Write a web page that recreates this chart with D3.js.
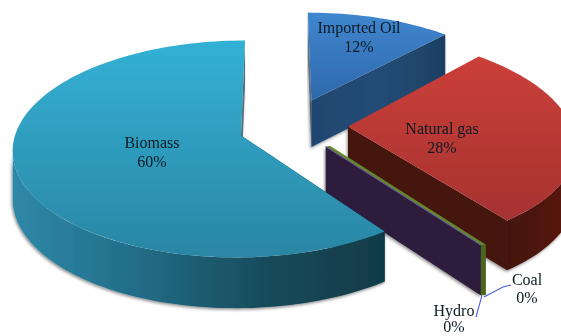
<!DOCTYPE html>
<html>
<head>
<meta charset="utf-8">
<script src="https://cdn.jsdelivr.net/npm/d3@7"></script>
<style>
html,body{margin:0;padding:0;background:#fff;overflow:hidden}
svg{display:block}
text{font-family:"Liberation Serif",serif;font-size:16px;fill:#0b1a22;text-anchor:middle}
</style>
</head>
<body>
<svg id="chart" width="561" height="336"></svg>
<script>
// Energy supply shares, in pie order clockwise from twelve o'clock
const sources = ["Imported Oil", "Natural gas", "Coal", "Hydro", "Biomass"];
const shares = [12, 28, 0, 0, 60];

// Slice separation on the disk plane, in units of the disk radius
const explodeU = [0.318, 0.479, 0.392, 0.372, 0];
const explodeV = [-0.342, -0.085, 0.098, 0.102, 0];
// Horizontal drift of each slice with distance from the viewer
const lean = [-4.5, 1.5, -4.5, -4.5, -4.5];

// Perspective camera for the tilted disk
const originX = 241, originY = 135.5;
const radiusX = 226, radiusY = 106.8, thickness = 47.5;
const perspective = 0.124;

const svg = d3.select("#chart");
const defs = svg.append("defs");
const path = d3.line().x(d => d[0]).y(d => d[1]);

const px = d3.scaleLinear().domain([0, 1]).range([0, radiusX]);
const py = d3.scaleLinear().domain([0, 1]).range([0, radiusY]);
const pz = d3.scaleLinear().domain([0, 1]).range([0, thickness]);

// Project a point of slice i (angle clockwise from top, radial fraction, height 0 top / 1 bottom)
function project(i, angle, r, z) {
  const v = -Math.cos(angle) * r + explodeV[i];
  const u = Math.sin(angle) * r + explodeU[i];
  const s = 1 / (1 - perspective * v);
  return [originX + (px(u) + lean[i] * v) * s, originY + py(v) * s + pz(z) * Math.sqrt(s)];
}

function rim(i, a0, a1, z) {
  const steps = Math.max(2, Math.ceil(Math.abs(a1 - a0) / 0.03));
  return d3.range(steps + 1).map(k => project(i, a0 + (a1 - a0) * k / steps, 1, z));
}

function gradient(id, x1, y1, x2, y2, stops) {
  const g = defs.append("linearGradient").attr("id", id)
    .attr("gradientUnits", "userSpaceOnUse")
    .attr("x1", x1).attr("y1", y1).attr("x2", x2).attr("y2", y2);
  stops.forEach(([o, c]) => g.append("stop").attr("offset", o).attr("stop-color", c));
  return `url(#${id})`;
}

const shadow = defs.append("filter").attr("id", "shade")
  .attr("x", "-10%").attr("y", "-10%").attr("width", "120%").attr("height", "120%");
shadow.append("feDropShadow").attr("dx", -1).attr("dy", 1.5)
  .attr("stdDeviation", 1.6).attr("flood-color", "#000").attr("flood-opacity", 0.45);

const soft = defs.append("filter").attr("id", "soft");
soft.append("feGaussianBlur").attr("stdDeviation", 0.35);

const arcs = d3.pie().value(d => d).sort(null).startAngle(0).endAngle(2 * Math.PI)(shares);
const root = svg.append("g").attr("filter", "url(#soft)");

function face(points, fill, extra) {
  const p = root.append("path").attr("d", path(points) + "Z").attr("fill", fill);
  if (extra) p.attr("filter", extra);
  return p;
}
function wall(i, angle) {
  return [project(i, 0, 0, 0), project(i, angle, 1, 0), project(i, angle, 1, 1), project(i, 0, 0, 1)];
}

// Imported oil
{
  const i = 0, a = arcs[i];
  face(wall(i, a.startAngle), "#5f6f7c", "url(#shade)");
  face(wall(i, a.endAngle), gradient("oilWall", 312, 0, 445, 0,
    [[0, "#1f4670"], [0.5, "#234c76"], [1, "#1e4064"]]), "url(#shade)");
  face([project(i, 0, 0, 0), ...rim(i, a.startAngle, a.endAngle, 0)],
    gradient("oilTop", 0, 14, 0, 100, [[0, "#3f86cf"], [1, "#2f68ab"]]));
}

// Natural gas
{
  const i = 1, a = arcs[i];
  const side = rim(i, a.endAngle, Math.PI / 2, 0).concat(rim(i, Math.PI / 2, a.endAngle, 1));
  face(side, gradient("gasRim", 505, 0, 561, 0, [[0, "#43110d"], [1, "#56190f"]]), "url(#shade)");
  face(wall(i, a.endAngle), "#45130e", "url(#shade)");
  face([project(i, 0, 0, 0), ...rim(i, a.startAngle, a.endAngle, 0)],
    gradient("gasTop", 0, 58, 0, 220, [[0, "#cb3f39"], [1, "#a63230"]]));
}

// Coal and hydro are zero-width slices: a wall, its top edge and its end cap
{
  const coal = 2, hydro = 3;
  const at = arcs[coal].startAngle;
  face(wall(hydro, at), "#2d1e3d", "url(#shade)");
  face([project(hydro, 0, 0, 0), project(hydro, at, 1, 0), project(coal, at, 1, 0), project(coal, 0, 0, 0)], "#64882a");
  face([project(hydro, at, 1, 0), project(coal, at, 1, 0), project(coal, at, 1, 1), project(hydro, at, 1, 1)], "#4a661e");
  root.append("path")
    .attr("d", path([project(hydro, 0, 0, 0), project(hydro, at, 1, 0)]))
    .attr("stroke", "#6a50b4").attr("stroke-width", 1).attr("fill", "none");
}

// Biomass
{
  const i = 4, a = arcs[i];
  const silhouette = 3 * Math.PI / 2 - 0.12;
  const front = rim(i, a.startAngle, silhouette, 0).concat(rim(i, silhouette, a.startAngle, 1));
  face(wall(i, a.endAngle), "#55707c", "url(#shade)");
  face(wall(i, a.startAngle), "#0f3c49", "url(#shade)");
  face(front, gradient("bioRim", 12, 0, 381, 0,
    [[0, "#2f88a8"], [0.3, "#23708c"], [0.7, "#174a5a"], [1, "#113b47"]]), "url(#shade)");
  face([project(i, 0, 0, 0), ...rim(i, a.startAngle, a.endAngle, 0)],
    gradient("bioTop", 0, 41, 0, 256, [[0, "#33b1d5"], [1, "#2b86a4"]]));
}

// Leader lines for the zero-width slices
const coalFoot = project(2, arcs[2].startAngle, 1, 1);
const hydroFoot = project(3, arcs[3].startAngle, 1, 1);
const leader = root.append("g").attr("fill", "none").attr("stroke", "#4a5ae6").attr("stroke-width", 1.1);
leader.append("path").attr("d", path([[coalFoot[0] - 2, coalFoot[1] + 2], [503, 287], [511, 285]]));
leader.append("path").attr("d", path([[hydroFoot[0] + 1, hydroFoot[1]], [476, 317]]));

// Labels: name on the first line, share beneath it
const labelSpots = {
  "Imported Oil": [359, 33, 19],
  "Natural gas": [442, 134, 19],
  "Coal": [527, 285, 18],
  "Hydro": [454, 316, 16],
  "Biomass": [152, 148, 19]
};
const labels = root.append("g");
sources.forEach((name, i) => {
  const [x, y, lineGap] = labelSpots[name];
  labels.append("text").attr("x", x).attr("y", y).text(name);
  labels.append("text").attr("x", x).attr("y", y + lineGap).text(shares[i] + "%");
});
</script>
</body>
</html>
